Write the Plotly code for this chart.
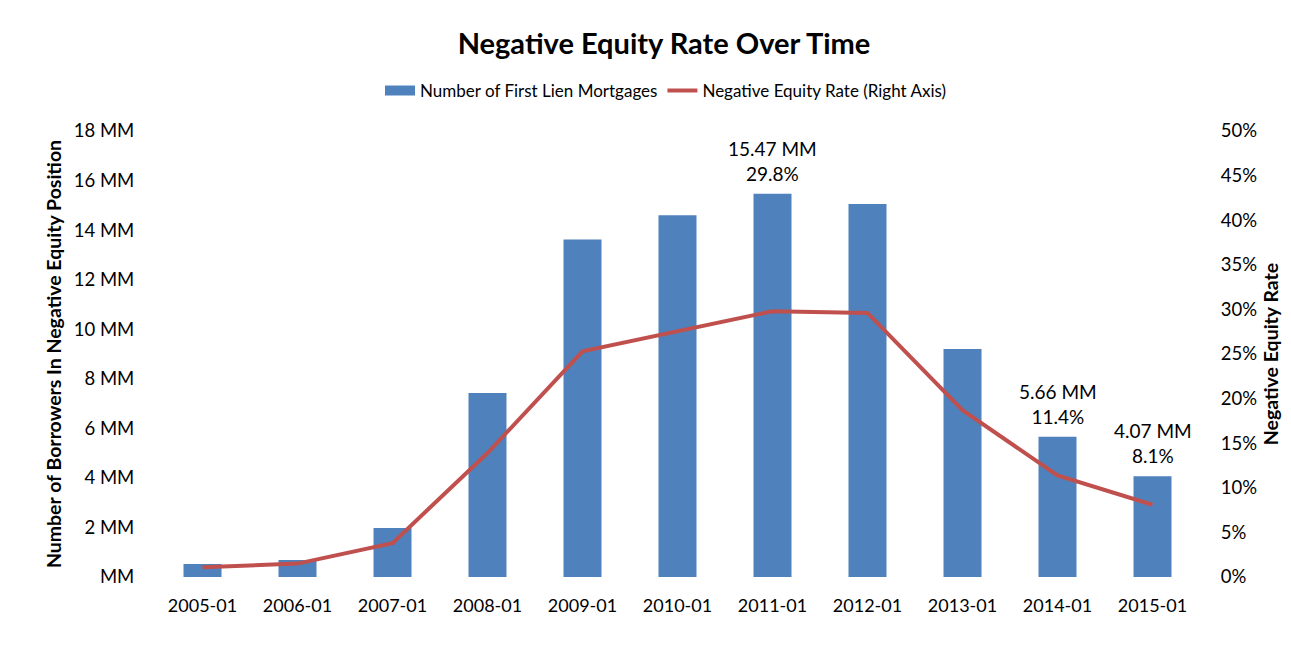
import plotly.graph_objects as go

categories = ["2005-01", "2006-01", "2007-01", "2008-01", "2009-01", "2010-01",
              "2011-01", "2012-01", "2013-01", "2014-01", "2015-01"]
borrowers_mm = [0.52, 0.69, 1.98, 7.43, 13.62, 14.60, 15.47, 15.05, 9.20, 5.66, 4.07]
neg_equity_rate = [1.1, 1.5, 3.8, 13.9, 25.3, 27.6, 29.8, 29.6, 18.7, 11.4, 8.1]

left_tickvals = [0, 2, 4, 6, 8, 10, 12, 14, 16, 18]
left_ticktext = ["MM", "2 MM", "4 MM", "6 MM", "8 MM", "10 MM", "12 MM", "14 MM", "16 MM", "18 MM"]
right_tickvals = [0, 5, 10, 15, 20, 25, 30, 35, 40, 45, 50]
right_ticktext = [f"{v}%" for v in right_tickvals]

label_idx = [6, 9, 10]

FONT = "Lato, 'Open Sans', sans-serif"
BLUE = "#4F81BD"
RED = "#C0504D"

fig = go.Figure()
fig.add_trace(go.Bar(
    x=categories, y=borrowers_mm, name="Number of First Lien Mortgages",
    marker=dict(color=BLUE, line=dict(width=0)), width=0.4, yaxis="y",
    showlegend=False,
))
# legend-only entry to mimic the wide rectangular swatch
fig.add_trace(go.Scatter(
    x=[None], y=[None], name="Number of First Lien Mortgages",
    mode="lines", line=dict(color=BLUE, width=10), yaxis="y", showlegend=True,
))
fig.add_trace(go.Scatter(
    x=categories, y=neg_equity_rate, name="Negative Equity Rate (Right Axis)",
    mode="lines", line=dict(color=RED, width=4), yaxis="y2",
))

for i in label_idx:
    fig.add_annotation(
        x=categories[i], y=borrowers_mm[i], xref="x", yref="y",
        text=f"{borrowers_mm[i]:.2f} MM<br>{neg_equity_rate[i]:.1f}%",
        showarrow=False, yanchor="bottom", yshift=7,
        font=dict(size=19, color="#000000", family=FONT),
    )

fig.update_layout(
    width=1291, height=653,
    margin=dict(l=147, r=99, t=123, b=84),
    paper_bgcolor="white", plot_bgcolor="white",
    font=dict(family=FONT, size=18, color="#000000"),
    title=dict(text="<b>Negative Equity Rate Over Time</b>", x=656 / 1291, xanchor="center",
               xref="container", y=1 - 36 / 653, yanchor="middle",
               font=dict(size=29, family=FONT)),
    legend=dict(orientation="h", x=0.489, xanchor="center", y=1.09, yanchor="middle",
                font=dict(size=17, family=FONT), traceorder="normal"),
    showlegend=True,
    xaxis=dict(showgrid=False, showline=False, ticks="outside", ticklen=12,
               tickcolor="white", tickfont=dict(size=18), type="category"),
    yaxis=dict(range=[0, 18], tickvals=left_tickvals, ticktext=left_ticktext,
               showgrid=False, zeroline=False, showline=False, ticks="outside",
               ticklen=16, tickcolor="white", tickfont=dict(size=18.5),
               title=dict(text="<b>Number of Borrowers In Negative Equity Position</b>",
                          font=dict(size=19.5), standoff=6)),
    yaxis2=dict(range=[0, 50], tickvals=right_tickvals, ticktext=right_ticktext,
                overlaying="y", side="right", showgrid=False, zeroline=False,
                showline=False, tickfont=dict(size=18.5), ticks="outside", ticklen=16,
                tickcolor="white",
                title=dict(text="<b>Negative Equity Rate</b>", font=dict(size=19.5),
                           standoff=8)),
)

fig.write_html("out.html")
